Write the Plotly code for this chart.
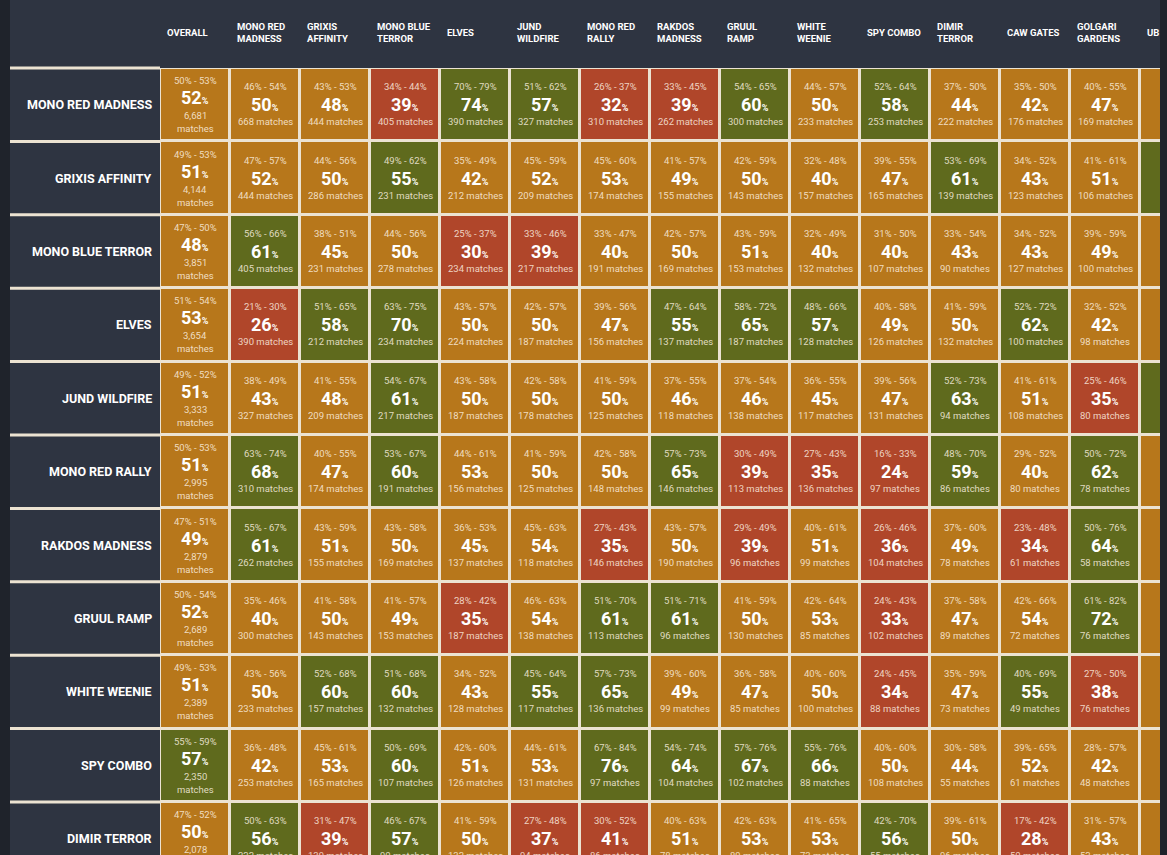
import plotly.graph_objects as go

columns = ["OVERALL", "MONO RED<br>MADNESS", "GRIXIS<br>AFFINITY", "MONO BLUE<br>TERROR", "ELVES",
           "JUND<br>WILDFIRE", "MONO RED<br>RALLY", "RAKDOS<br>MADNESS", "GRUUL<br>RAMP", "WHITE<br>WEENIE",
           "SPY COMBO", "DIMIR<br>TERROR", "CAW GATES", "GOLGARI<br>GARDENS", "UB"]
rows = ["MONO RED MADNESS", "GRIXIS AFFINITY", "MONO BLUE TERROR", "ELVES", "JUND WILDFIRE",
        "MONO RED RALLY", "RAKDOS MADNESS", "GRUUL RAMP", "WHITE WEENIE", "SPY COMBO", "DIMIR TERROR"]

win = [
 [52,50,48,39,74,57,32,39,60,50,58,44,42,47,36],
 [51,52,50,55,42,52,53,49,50,40,47,61,43,51,58],
 [48,61,45,50,30,39,40,50,51,40,40,43,43,49,41],
 [53,26,58,70,50,50,47,55,65,57,49,50,62,42,40],
 [51,43,48,61,50,50,50,46,46,45,47,63,51,35,58],
 [51,68,47,60,53,50,50,65,39,35,24,59,40,62,50],
 [49,61,51,50,45,54,35,50,39,51,36,49,34,64,45],
 [52,40,50,49,35,54,61,61,50,53,33,47,54,72,48],
 [51,50,60,60,43,55,65,49,47,50,34,47,55,38,50],
 [57,42,53,60,51,53,76,64,67,66,50,44,52,42,47],
 [50,56,39,57,50,37,41,51,53,53,56,50,28,43,52],
]
low = [
 [50,46,43,34,70,51,26,33,54,44,52,37,35,40,30],
 [49,47,44,49,35,45,45,41,42,32,39,53,34,41,48],
 [47,56,38,44,25,33,33,42,43,32,31,33,34,39,31],
 [51,21,51,63,43,42,39,47,58,48,40,41,52,32,30],
 [49,38,41,54,43,42,41,37,37,36,39,52,41,25,46],
 [50,63,40,53,44,41,42,57,30,27,16,48,29,50,38],
 [47,55,43,43,36,45,27,43,29,40,26,37,23,50,33],
 [50,35,41,41,28,46,51,51,41,42,24,37,42,61,36],
 [49,43,52,51,34,45,57,39,36,40,24,35,40,27,37],
 [55,36,45,50,42,44,67,54,57,55,40,30,39,28,34],
 [47,50,31,46,41,27,30,40,42,41,42,39,17,31,40],
]
high = [
 [53,54,53,44,79,62,37,45,65,57,64,50,50,55,43],
 [53,57,56,62,49,59,60,57,59,48,55,69,52,61,68],
 [50,66,51,56,37,46,47,57,59,49,50,54,52,59,51],
 [54,30,65,75,57,57,56,64,72,66,58,59,72,52,51],
 [52,49,55,67,58,58,59,55,54,55,56,73,61,46,69],
 [53,74,55,67,61,59,58,73,49,43,33,70,52,72,62],
 [51,67,59,58,53,63,43,57,49,61,46,60,48,76,57],
 [54,46,58,57,42,63,70,71,59,64,43,58,66,82,60],
 [53,56,68,68,52,64,73,60,58,60,45,59,69,50,62],
 [59,48,61,69,60,61,84,74,76,76,60,58,65,57,60],
 [52,63,47,67,59,48,52,63,63,65,70,61,42,57,64],
]
matches = [
 [6681,668,444,405,390,327,310,262,300,233,253,222,176,169,163],
 [4144,444,286,231,212,209,174,155,143,157,165,139,123,106,98],
 [3851,405,231,278,234,217,191,169,153,132,107,90,127,100,95],
 [3654,390,212,234,224,187,156,137,187,128,126,132,100,98,89],
 [3333,327,209,217,187,178,125,118,138,117,131,94,108,80,70],
 [2995,310,174,191,156,125,148,146,113,136,97,86,80,78,74],
 [2879,262,155,169,137,118,146,190,96,99,104,78,61,58,66],
 [2689,300,143,153,187,138,113,96,130,85,102,89,72,76,71],
 [2389,233,157,132,128,117,136,99,85,100,88,73,49,76,64],
 [2350,253,165,107,126,131,97,104,102,88,108,55,61,48,60],
 [2078,222,139,90,132,94,86,78,89,73,55,96,50,52,58],
]
classes = [
 "OOORGGRRGOGOOOO",
 "OOOGOOOOOOOGOOG",
 "OGOORROOOOOOOOO",
 "ORGGOOOGGGOOGOO",
 "OOOGOOOOOOOGORG",
 "OGOGOOOGRRRGOGO",
 "OGOOOORORORORGO",
 "OOOOROGGOOROOGO",
 "OOGGOGGOOOROGRO",
 "GOOGOOGGGGOOOOO",
 "OGRGORROOOGOROO",
]

RED, ORANGE, GREEN = "#b0462a", "#b7771b", "#5f6a1d"
BG, CREAM, EDGE = "#2e3441", "#ece3d2", "#1f232b"
code = {"R": 0, "O": 1, "G": 2}
z = [[code[c] for c in r] for r in classes]

ncol, nrow = len(columns), len(rows)
colw, rowh = 70.0, 73.4
W, H = 1167, 855
x0 = -0.5 - 160 / colw
x1 = x0 + W / colw
ytop = -0.5 - 68 / rowh
ybot = ytop + H / rowh

fig = go.Figure(go.Heatmap(
    z=z, x=list(range(ncol)), y=list(range(nrow)),
    colorscale=[[0, RED], [0.5, ORANGE], [1, GREEN]], zmin=0, zmax=2,
    xgap=3, ygap=3, showscale=False, hoverinfo="skip"))

shapes = [dict(type="rect", xref="x", yref="y", x0=-0.5, x1=ncol - 0.5, y0=-0.5, y1=nrow - 0.5,
               fillcolor=CREAM, line_width=0, layer="below"),
          dict(type="rect", xref="paper", yref="paper", x0=0, x1=10 / W, y0=0, y1=1,
               fillcolor=EDGE, line_width=0),
          dict(type="rect", xref="paper", yref="paper", x0=1160 / W, x1=1, y0=0, y1=1,
               fillcolor=EDGE, line_width=0)]
for i in range(nrow + 1):
    shapes.append(dict(type="line", xref="x", yref="y", x0=x0 + 10 / colw, x1=-0.5,
                       y0=i - 0.5, y1=i - 0.5, line=dict(color=CREAM, width=3)))

ann = []
F = "Roboto"
txt = "rgba(255,245,230,0.82)"
for j, c in enumerate(columns):
    ann.append(dict(x=j - 0.5, y=-0.5, xref="x", yref="y", xanchor="left", yanchor="middle",
                    xshift=5, yshift=36, text="<b>" + c + "</b>", showarrow=False, align="left",
                    font=dict(family=F, size=9.5, color="white")))
for i, r in enumerate(rows):
    ann.append(dict(x=-0.5, y=i, xref="x", yref="y", xanchor="right", xshift=-6,
                    text="<b>" + r + "</b>", showarrow=False,
                    font=dict(family=F, size=12.5, color="white")))
    for j in range(ncol):
        m = f"{matches[i][j]:,}"
        if j == 0:
            offs = (24, 7, -11, -24)
            ann.append(dict(x=j, y=i, text=m, yshift=offs[2], showarrow=False,
                            font=dict(family=F, size=9.5, color=txt)))
            ann.append(dict(x=j, y=i, text="matches", yshift=offs[3], showarrow=False,
                            font=dict(family=F, size=9.5, color=txt)))
        else:
            offs = (18, 0, -17)
            ann.append(dict(x=j, y=i, text=m + " matches", yshift=offs[2], showarrow=False,
                            font=dict(family=F, size=9.5, color=txt)))
        ann.append(dict(x=j, y=i, text=f"{low[i][j]}% - {high[i][j]}%", yshift=offs[0],
                        showarrow=False, font=dict(family=F, size=9.5, color=txt)))
        ann.append(dict(x=j, y=i, text=f"<b>{win[i][j]}</b><b><span style='font-size:9px'>%</span></b>",
                        yshift=offs[1], showarrow=False, font=dict(family=F, size=18, color="white")))

fig.update_layout(
    width=W, height=H, margin=dict(l=0, r=0, t=0, b=0),
    paper_bgcolor=BG, plot_bgcolor=BG,
    xaxis=dict(range=[x0, x1], visible=False, fixedrange=True),
    yaxis=dict(range=[ybot, ytop], visible=False, fixedrange=True),
    shapes=shapes, annotations=ann, showlegend=False)
fig.write_html("out.html", config={"displayModeBar": False},
               post_script="document.body.style.margin='0';document.body.style.overflow='hidden';document.body.style.background='#2e3441';")
